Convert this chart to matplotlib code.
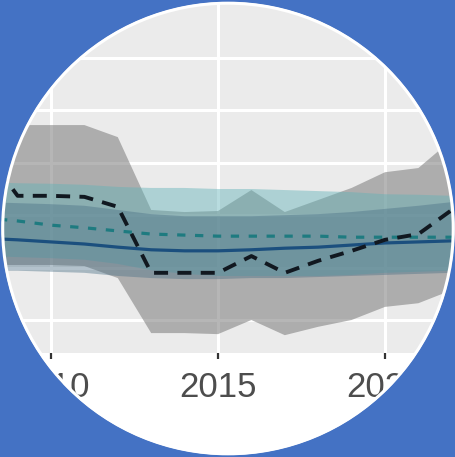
import numpy as np
import matplotlib
matplotlib.use("Agg")
import matplotlib.pyplot as plt
from matplotlib.path import Path
from matplotlib.patches import PathPatch, Circle

years = np.arange(2008, 2023)

# black dashed series and its grey band
obs = [4.24, 3.37, 3.37, 3.35, 3.16, 1.90, 1.90, 1.90, 2.22, 1.90, 2.13, 2.32, 2.53, 2.64, 3.10]
obs_hi = [4.72, 4.72, 4.72, 4.72, 4.49, 3.10, 3.06, 3.08, 3.48, 3.06, 3.29, 3.52, 3.82, 3.90, 4.44]
obs_lo = [2.05, 2.05, 2.05, 2.03, 1.80, 0.75, 0.75, 0.73, 1.00, 0.71, 0.87, 1.00, 1.25, 1.32, 1.57]

# teal dashed series and its band
teal = [2.95, 2.89, 2.81, 2.76, 2.70, 2.64, 2.62, 2.60, 2.60, 2.60, 2.60, 2.58, 2.58, 2.58, 2.58]
teal_hi = [3.63, 3.61, 3.60, 3.58, 3.54, 3.52, 3.52, 3.50, 3.50, 3.48, 3.46, 3.44, 3.40, 3.39, 3.37]
teal_lo = [2.22, 2.20, 2.18, 2.15, 2.07, 1.95, 1.88, 1.84, 1.84, 1.84, 1.84, 1.86, 1.90, 1.92, 1.94]

# solid blue series and its band
blue = [2.56, 2.53, 2.49, 2.45, 2.39, 2.34, 2.32, 2.32, 2.34, 2.37, 2.39, 2.43, 2.47, 2.49, 2.51]
blue_hi = [3.25, 3.23, 3.21, 3.18, 3.10, 3.02, 2.98, 2.98, 2.98, 3.00, 3.02, 3.06, 3.12, 3.18, 3.25]
blue_lo = [1.94, 1.94, 1.92, 1.90, 1.84, 1.80, 1.78, 1.78, 1.80, 1.80, 1.82, 1.84, 1.86, 1.88, 1.90]

xticks = [2010, 2015, 2020]

W, H = 456, 457
fig = plt.figure(figsize=(W / 100, H / 100), dpi=100, facecolor="white")
ax = fig.add_axes([0, (H - 353) / H, 1, 353 / H])
ax.set_facecolor("#EBEBEB")
ax.set_xlim(2008.473, 2022.126)
ax.set_ylim(0.370, 7.107)

ax.fill_between(years, obs_lo, obs_hi, color="#7A7A7A", alpha=0.55, lw=0)
ax.fill_between(years, teal_lo, teal_hi, color="#62B3B8", alpha=0.45, lw=0)
ax.fill_between(years, blue_lo, blue_hi, color="#4A6F86", alpha=0.42, lw=0)

ax.plot(years, blue, color="#1B4F7E", lw=2.3, solid_capstyle="butt")
ax.plot(years, teal, color="#1E7B80", lw=2.3, dashes=(2.6, 3))
ax.plot(years, obs, color="#111820", lw=2.8, dashes=(3.6, 2.4))

ax.set_xticks(xticks)
ax.set_xticks([], minor=True)
ax.set_yticks([1, 2, 3, 4, 5, 6])
ax.grid(True, color="white", lw=2.2)
ax.set_axisbelow(True)
for s in ax.spines.values():
    s.set_visible(False)
ax.tick_params(axis="x", length=4, width=1.6, color="#333333", pad=9,
               labelsize=25, labelcolor="#4D4D4D")
ax.tick_params(axis="y", left=False, labelleft=False)
for lab in ax.get_xticklabels():
    lab.set_family("Liberation Sans")

# round mask with blue surround
ov = fig.add_axes([0, 0, 1, 1], zorder=10)
ov.set_xlim(0, W)
ov.set_ylim(H, 0)
ov.axis("off")
ov.patch.set_alpha(0)
cx, cy, r = 228, 228.5, 226.5
th = np.linspace(0, -2 * np.pi, 721)
rect = [(-5, -5), (W + 5, -5), (W + 5, H + 5), (-5, H + 5), (-5, -5)]
hole = list(zip(cx + r * np.cos(th), cy + r * np.sin(th)))
verts = rect + hole
codes = [Path.MOVETO] + [Path.LINETO] * 3 + [Path.CLOSEPOLY] + \
        [Path.MOVETO] + [Path.LINETO] * (len(hole) - 2) + [Path.CLOSEPOLY]
ov.add_patch(PathPatch(Path(verts, codes), facecolor="#4472C4", edgecolor="none"))
ov.add_patch(Circle((cx, cy), r - 1.2, fill=False, edgecolor="white", lw=2.2))

fig.savefig("out.png", dpi=100, facecolor="white")
